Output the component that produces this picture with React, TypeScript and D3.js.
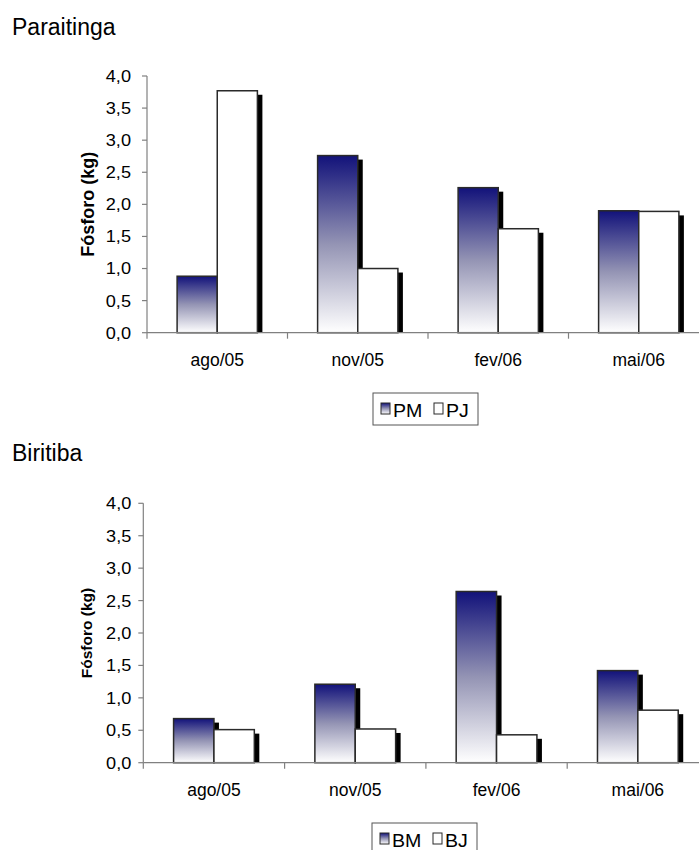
import React from "react";
import * as d3 from "d3";

// Months sampled
const categories = ["ago/05", "nov/05", "fev/06", "mai/06"];

// Phosphorus load (kg) per site and stratum
const paraitingaPM = [0.88, 2.76, 2.26, 1.9];
const paraitingaPJ = [3.77, 1.0, 1.62, 1.89];
const biritibaBM = [0.68, 1.21, 2.64, 1.42];
const biritibaBJ = [0.51, 0.52, 0.43, 0.81];

const yTicks = [0, 0.5, 1, 1.5, 2, 2.5, 3, 3.5, 4];

const FONT = "'Liberation Sans', Arial, sans-serif";
const fmt = (v: number) => d3.format(".1f")(v).replace(".", ",");

type PanelProps = {
  title: string;
  titleY: number;
  names: [string, string];
  first: number[];
  second: number[];
  axisX: number;
  top: number;
  bottom: number;
  band: number;
  legendX: number;
  legendY: number;
  yTitleSize: number;
  yTitleOffset: number;
  tickGap: number;
};

function Panel(p: PanelProps) {
  const y = d3.scaleLinear().domain([0, 4]).range([p.bottom, p.top]);
  const x0 = d3
    .scaleBand<string>()
    .domain(categories)
    .range([p.axisX, p.axisX + categories.length * p.band])
    .padding(0);
  const x1 = d3
    .scaleBand<string>()
    .domain(p.names)
    .range([0, x0.bandwidth()])
    .paddingInner(0)
    .paddingOuter(0.75);
  const bw = x1.bandwidth();
  const rows = categories.map((c, i) => ({ c, vals: [p.first[i], p.second[i]] }));
  const axisColor = "#808080";
  const boundaries = d3.range(categories.length + 1).map((i) => p.axisX + i * p.band);

  return (
    <g>
      <text x={12} y={p.titleY} fontFamily={FONT} fontSize={23} fill="#000">
        {p.title}
      </text>

      {/* drop shadows */}
      {rows.map((r) =>
        r.vals.map((v, k) => (
          <rect
            key={`s-${r.c}-${k}`}
            x={(x0(r.c) as number) + (x1(p.names[k]) as number) + 5}
            y={y(v) + 4}
            width={bw}
            height={Math.max(0, p.bottom - y(v) - 4)}
            fill="#000"
          />
        ))
      )}

      {/* bars */}
      {rows.map((r) =>
        r.vals.map((v, k) => (
          <rect
            key={`b-${r.c}-${k}`}
            x={(x0(r.c) as number) + (x1(p.names[k]) as number)}
            y={y(v)}
            width={bw}
            height={p.bottom - y(v)}
            fill={k === 0 ? "url(#navyFade)" : "#fff"}
            stroke="#2a2a2a"
            strokeWidth={1.5}
          />
        ))
      )}

      {/* value axis */}
      <line x1={p.axisX} x2={p.axisX} y1={p.top} y2={p.bottom} stroke={axisColor} strokeWidth={1.2} />
      {yTicks.map((t) => (
        <g key={`yt-${t}`}>
          <line x1={p.axisX - 5} x2={p.axisX} y1={y(t)} y2={y(t)} stroke={axisColor} strokeWidth={1.2} />
          <text
            transform={`translate(${p.axisX - p.tickGap},${y(t)}) scale(1.1,1)`}
            dy="0.36em"
            textAnchor="end"
            fontFamily={FONT}
            fontSize={16.5}
            fill="#000"
          >
            {fmt(t)}
          </text>
        </g>
      ))}
      <text
        transform={`translate(${p.axisX - p.yTitleOffset},${(p.top + p.bottom) / 2}) rotate(-90)`}
        textAnchor="middle"
        dy="0.35em"
        fontFamily={FONT}
        fontWeight="bold"
        fontSize={p.yTitleSize}
        fill="#000"
      >
        Fósforo (kg)
      </text>

      {/* category axis */}
      <line x1={p.axisX} x2={p.axisX + categories.length * p.band} y1={p.bottom} y2={p.bottom} stroke={axisColor} strokeWidth={1.2} />
      {boundaries.map((b, i) => (
        <line key={`xt-${i}`} x1={b} x2={b} y1={p.bottom} y2={p.bottom + 6} stroke={axisColor} strokeWidth={1.2} />
      ))}
      {categories.map((c) => (
        <text
          key={`xl-${c}`}
          x={(x0(c) as number) + x0.bandwidth() / 2}
          y={p.bottom + 33}
          textAnchor="middle"
          fontFamily={FONT}
          fontSize={17.5}
          fill="#000"
        >
          {c}
        </text>
      ))}

      {/* legend */}
      <g transform={`translate(${p.legendX},${p.legendY})`}>
        <rect x={0} y={0} width={105} height={32} fill="#fff" stroke="#555" strokeWidth={1} />
        <rect x={8} y={10} width={9} height={11} fill="url(#navyFade)" stroke="#2a2a2a" strokeWidth={1} />
        <text transform="translate(20,23.5) scale(1.12,1)" fontFamily={FONT} fontSize={17.5} fill="#000">
          {p.names[0]}
        </text>
        <rect x={61} y={10} width={9} height={11} fill="#fff" stroke="#2a2a2a" strokeWidth={1} />
        <text transform="translate(73,23.5) scale(1.12,1)" fontFamily={FONT} fontSize={17.5} fill="#000">
          {p.names[1]}
        </text>
      </g>
    </g>
  );
}

export default function App() {
  return (
    <svg
      width={699}
      height={850}
      style={{ position: "absolute", left: 0, top: 0, background: "#fff" }}
    >
      <defs>
        <linearGradient id="navyFade" x1="0" y1="0" x2="0" y2="1">
          <stop offset="0" stopColor="#12127a" />
          <stop offset="0.5" stopColor="#9494b4" />
          <stop offset="1" stopColor="#ffffff" />
        </linearGradient>
      </defs>
      <rect width={699} height={850} fill="#fff" />
      <Panel
        title="Paraitinga"
        titleY={35}
        names={["PM", "PJ"]}
        first={paraitingaPM}
        second={paraitingaPJ}
        axisX={147}
        top={76}
        bottom={332.7}
        band={140.5}
        legendX={373}
        legendY={393}
        yTitleSize={18}
        yTitleOffset={59}
        tickGap={16}
      />
      <Panel
        title="Biritiba"
        titleY={461}
        names={["BM", "BJ"]}
        first={biritibaBM}
        second={biritibaBJ}
        axisX={143.3}
        top={503.3}
        bottom={762.7}
        band={141.3}
        legendX={372}
        legendY={823}
        yTitleSize={15.5}
        yTitleOffset={57}
        tickGap={12}
      />
    </svg>
  );
}
